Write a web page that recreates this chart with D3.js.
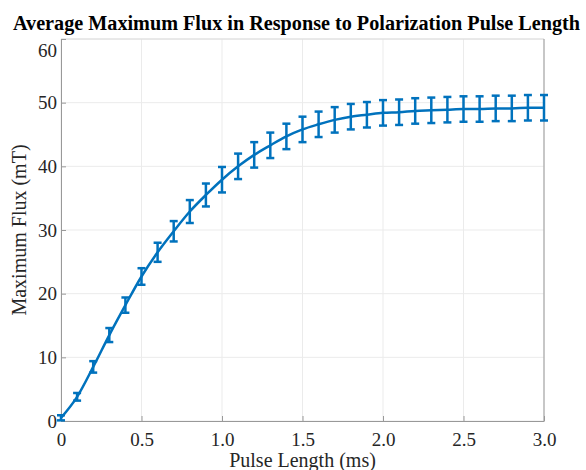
<!DOCTYPE html>
<html>
<head>
<meta charset="utf-8">
<title>Average Maximum Flux</title>
<script type="text/javascript" src="https://cdn.jsdelivr.net/npm/d3@7"></script>
<style>
  body { margin: 0; background: #fff; }
  text { font-family: "Liberation Serif", "Times New Roman", serif; }
</style>
</head>
<body>
<script type="text/javascript">
// pulse length in ms
var pulseLength = [0, 0.1, 0.2, 0.3, 0.4, 0.5, 0.6, 0.7, 0.8, 0.9, 1.0,
  1.1, 1.2, 1.3, 1.4, 1.5, 1.6, 1.7, 1.8, 1.9, 2.0,
  2.1, 2.2, 2.3, 2.4, 2.5, 2.6, 2.7, 2.8, 2.9, 3.0]
var maxFlux = [0.5, 3.8, 8.5, 13.5, 18.2, 22.7, 26.5, 29.8, 32.9, 35.5, 37.9,
  40.0, 41.8, 43.3, 44.7, 45.8, 46.6, 47.3, 47.8, 48.1, 48.4,
  48.5, 48.7, 48.8, 48.9, 49.0, 49.0, 49.1, 49.1, 49.2, 49.2]
var fluxErr = [0.4, 0.6, 0.9, 1.1, 1.2, 1.3, 1.5, 1.6, 1.8, 1.8, 2.0,
  2.0, 2.0, 2.0, 2.0, 2.0, 2.0, 2.0, 2.0, 2.0, 2.0,
  2.0, 2.0, 2.0, 2.0, 2.0, 2.0, 2.0, 2.0, 2.0, 2.0]
var xTicks = [0, 0.5, 1.0, 1.5, 2.0, 2.5, 3.0]
var yTicks = [0, 10, 20, 30, 40, 50, 60]

var w = 586, h = 470
var mLeft = 61, mRight = 544, mTop = 39, mBottom = 421
var blue = "#0072BD"

var svg = d3.select("body").append("svg").attr("width", w).attr("height", h)

var x = d3.scaleLinear().domain([0, 3]).range([mLeft, mRight])
var y = d3.scaleLinear().domain([0, 60]).range([mBottom, mTop])

// grid
svg.append("g").selectAll("line").data(xTicks).enter().append("line")
  .attr("x1", d => x(d)).attr("x2", d => x(d))
  .attr("y1", mTop).attr("y2", mBottom)
  .attr("stroke", "#ebebeb").attr("stroke-width", 1)
svg.append("g").selectAll("line").data(yTicks).enter().append("line")
  .attr("x1", mLeft).attr("x2", mRight)
  .attr("y1", d => y(d)).attr("y2", d => y(d))
  .attr("stroke", "#ebebeb").attr("stroke-width", 1)

// top and right box edges
svg.append("line").attr("x1", mLeft).attr("x2", mRight).attr("y1", mTop).attr("y2", mTop)
  .attr("stroke", "#dcdcdc")
svg.append("line").attr("x1", mRight).attr("x2", mRight).attr("y1", mTop).attr("y2", mBottom)
  .attr("stroke", "#999")

// axes, ticks pointing inward like matlab
var xAxis = svg.append("g").attr("transform", "translate(0," + mBottom + ")")
  .call(d3.axisBottom(x).tickValues(xTicks).tickSizeInner(-5).tickSizeOuter(0)
    .tickFormat(d => d === 0 ? "0" : d3.format(".1f")(d)))
var yAxis = svg.append("g").attr("transform", "translate(" + mLeft + ",0)")
  .call(d3.axisLeft(y).tickValues(yTicks).tickSizeInner(-5).tickSizeOuter(0))

;[xAxis, yAxis].forEach(function(g) {
  g.select(".domain").attr("stroke", "#999")
  g.selectAll(".tick line").attr("stroke", "#999")
  g.selectAll(".tick text").attr("fill", "#262626")
    .style("font-size", "19px").style("font-family", "Liberation Serif, serif")
})
xAxis.selectAll(".tick text").attr("y", 12).attr("dy", "0.71em")
yAxis.selectAll(".tick text").attr("x", -4)
// top label sits a bit lower in the original, clear of the title
yAxis.selectAll(".tick").filter(d => d === 60).select("text").attr("y", 11)

var pts = pulseLength.map((d, i) => ({x: d, y: maxFlux[i], e: fluxErr[i]}))

// fitted curve
var line = d3.line().x(d => x(d.x)).y(d => y(d.y)).curve(d3.curveMonotoneX)
svg.append("path").datum(pts).attr("d", line)
  .attr("fill", "none").attr("stroke", blue).attr("stroke-width", 2.5)

// error bars
var eb = svg.append("g").attr("stroke", blue).attr("stroke-width", 2.5)
eb.selectAll(".v").data(pts).enter().append("line").attr("class", "v")
  .attr("x1", d => x(d.x)).attr("x2", d => x(d.x))
  .attr("y1", d => y(d.y - d.e)).attr("y2", d => y(d.y + d.e))
eb.selectAll(".lo").data(pts).enter().append("line").attr("class", "lo")
  .attr("x1", d => x(d.x) - 4).attr("x2", d => x(d.x) + 4)
  .attr("y1", d => y(d.y - d.e)).attr("y2", d => y(d.y - d.e))
eb.selectAll(".hi").data(pts).enter().append("line").attr("class", "hi")
  .attr("x1", d => x(d.x) - 4).attr("x2", d => x(d.x) + 4)
  .attr("y1", d => y(d.y + d.e)).attr("y2", d => y(d.y + d.e))

// title and labels
svg.append("text").attr("x", 296.5).attr("y", 30)
  .attr("text-anchor", "middle").style("font-size", "20.2px").style("font-weight", "bold")
  .attr("fill", "#000")
  .text("Average Maximum Flux in Response to Polarization Pulse Length")
svg.append("text").attr("x", 302.5).attr("y", 467)
  .attr("text-anchor", "middle").style("font-size", "20px").attr("fill", "#262626")
  .text("Pulse Length (ms)")
svg.append("text")
  .attr("transform", "translate(26," + (mTop + mBottom) / 2 + ") rotate(-90)")
  .attr("text-anchor", "middle").style("font-size", "20px").attr("fill", "#262626")
  .text("Maximum Flux (mT)")
</script>
</body>
</html>
